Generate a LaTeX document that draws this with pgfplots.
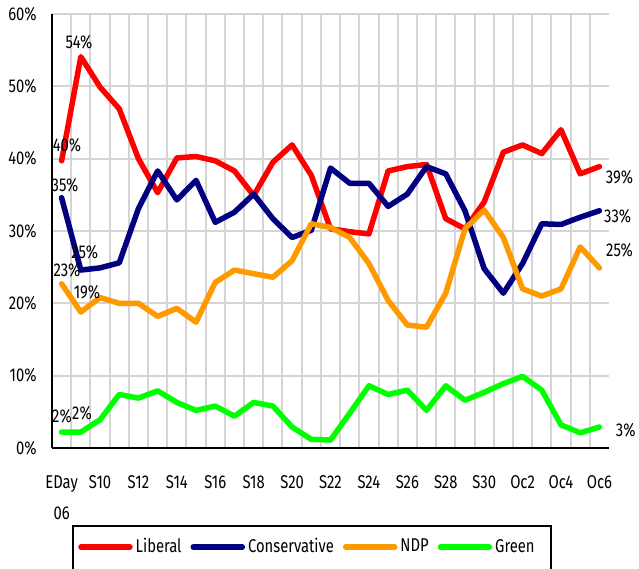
\documentclass[border=0pt]{standalone}
\usepackage{fontspec}
\setmainfont[FakeStretch=0.8]{Fira Sans}
\usepackage{pgfplots}
\usepackage{pgfplotstable}
\pgfplotsset{compat=1.18}
\definecolor{libred}{RGB}{255,0,0}
\definecolor{connavy}{RGB}{0,0,128}
\definecolor{ndporange}{RGB}{255,153,0}
\definecolor{grgreen}{RGB}{0,255,0}
\definecolor{gridgray}{RGB}{212,212,212}
\pgfplotstableread{
x lib con ndp grn
0 39.7 34.6 22.7 2.2
1 54.1 24.6 18.8 2.2
2 49.9 24.9 20.8 3.9
3 46.9 25.6 20.0 7.4
4 40.0 33.1 20.0 6.9
5 35.3 38.3 18.2 7.9
6 40.1 34.3 19.3 6.3
7 40.3 37.0 17.4 5.2
8 39.7 31.2 22.9 5.8
9 38.3 32.6 24.6 4.4
10 34.9 35.1 24.1 6.3
11 39.5 31.7 23.6 5.8
12 41.9 29.1 25.9 2.9
13 37.7 30.1 31.0 1.2
14 30.3 38.7 30.5 1.1
15 29.9 36.6 29.1 4.8
16 29.6 36.6 25.5 8.6
17 38.3 33.4 20.4 7.4
18 38.9 35.1 17.0 8.0
19 39.2 38.9 16.7 5.2
20 31.7 37.9 21.4 8.6
21 30.3 32.8 30.3 6.6
22 34.0 24.8 32.9 7.7
23 40.9 21.4 29.1 8.9
24 41.9 25.5 22.0 9.9
25 40.7 31.0 21.0 8.0
26 44.0 30.9 22.0 3.2
27 37.9 31.9 27.8 2.1
28 38.9 32.8 24.9 2.9
}\polls
\begin{document}
\fontsize{18.5bp}{22bp}\selectfont
\begin{tikzpicture}
\path[use as bounding box] (0bp,0bp) rectangle (639bp,569bp);
\begin{axis}[
  at={(52bp,121bp)}, anchor=south west,
  scale only axis, width=557bp, height=434bp,
  xmin=-0.5, xmax=28.5, ymin=0, ymax=60,
  clip=false,
  axis lines=left,
  axis line style={-, line width=1.6bp, black},
  xtick={0.5,1.5,2.5,3.5,4.5,5.5,6.5,7.5,8.5,9.5,10.5,11.5,12.5,13.5,14.5,15.5,16.5,17.5,18.5,19.5,20.5,21.5,22.5,23.5,24.5,25.5,26.5,27.5},
  xticklabels={},
  xmajorgrids=true,
  extra x ticks={0,2,4,6,8,10,12,14,16,18,20,22,24,26,28},
  extra x tick labels={{EDay\\06},S10,S12,S14,S16,S18,S20,S22,S24,S26,S28,S30,Oc2,Oc4,Oc6},
  extra x tick style={grid=none, xticklabel style={align=center, font=\fontsize{18.5bp}{31bp}\selectfont, yshift=-21bp}},
  ytick={0,10,...,60},
  yticklabel={\pgfmathprintnumber{\tick}\%},
  yticklabel style={xshift=-9bp},
  ymajorgrids=true,
  major grid style={gridgray, line width=2bp},
  tick style={draw=none},
  major tick length=0pt,
  /pgf/number format/assume math mode=true,
  every axis plot/.append style={line width=5.5bp, line join=round, line cap=round},
  legend columns=4,
  legend style={at={(axis description cs:0.0467,-0.2281)}, anchor=west,
    draw=none, fill=none, inner sep=0pt,
    nodes={inner sep=3bp},
    /tikz/every even column/.append style={column sep=6bp}},
  legend image code/.code={\draw[#1] (0bp,0bp) -- (49bp,0bp);},
]
\addplot[libred] table[x=x,y=lib]{\polls};
\addlegendentry{Liberal}
\addplot[connavy] table[x=x,y=con]{\polls};
\addlegendentry{Conservative}
\addplot[ndporange] table[x=x,y=ndp]{\polls};
\addlegendentry{NDP}
\addplot[grgreen] table[x=x,y=grn]{\polls};
\addlegendentry{Green}
\node at (axis cs:0.905,56.1) {54\%};
\node at (axis cs:0.28,41.8) {40\%};
\node at (axis cs:0.18,36.3) {35\%};
\node at (axis cs:1.2,27.0) {25\%};
\node at (axis cs:0.28,24.6) {23\%};
\node at (axis cs:1.32,21.5) {19\%};
\node at (axis cs:0.02,4.4) {2\%};
\node at (axis cs:1.06,4.8) {2\%};
\node at (axis cs:29.05,37.5) {39\%};
\node at (axis cs:28.95,32.0) {33\%};
\node at (axis cs:29.05,27.4) {25\%};
\node at (axis cs:29.37,2.5) {3\%};
\end{axis}
\draw[line width=2bp, black] (73bp,43bp) rectangle (551bp,-11bp);
\end{tikzpicture}
\end{document}
